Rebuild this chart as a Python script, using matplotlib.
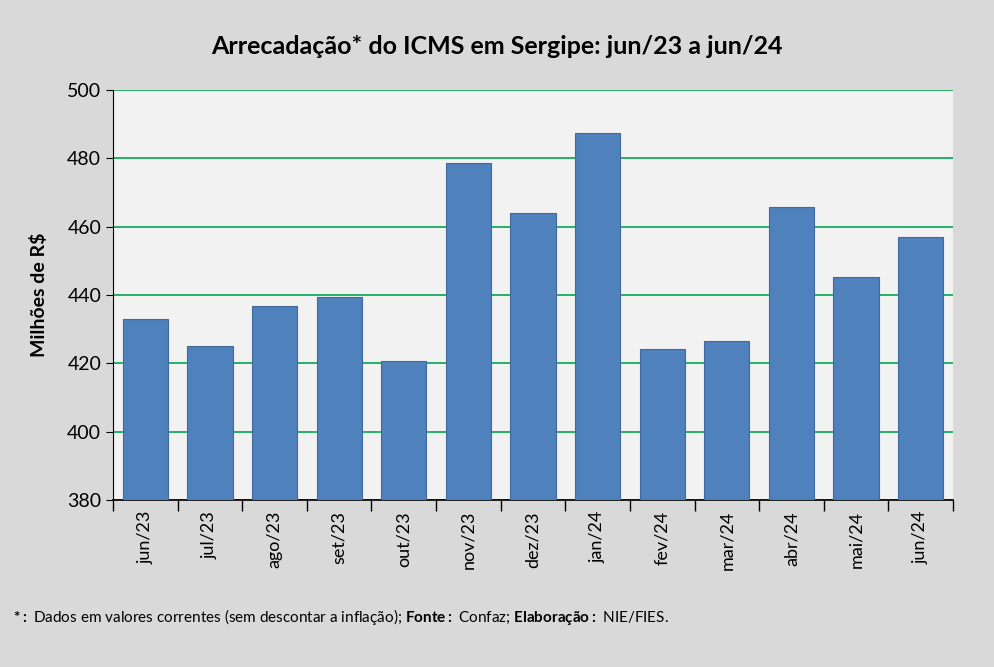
import matplotlib.pyplot as plt
import numpy as np

plt.rcParams['font.family'] = ['Lato', 'DejaVu Sans']
plt.rcParams['mathtext.fontset'] = 'custom'
plt.rcParams['mathtext.rm'] = 'Lato'
plt.rcParams['mathtext.bf'] = 'Lato:bold'

months = ['jun/23', 'jul/23', 'ago/23', 'set/23', 'out/23', 'nov/23', 'dez/23',
          'jan/24', 'fev/24', 'mar/24', 'abr/24', 'mai/24', 'jun/24']
icms = [433, 425, 436.8, 439.5, 420.7, 478.5, 464, 487.5, 424.2, 426.5, 465.7, 445.2, 457]

fig = plt.figure(figsize=(9.94, 6.67), dpi=100, facecolor='#d9d9d9')
ax = fig.add_axes([0.1137, 0.2504, 0.845, 0.6146])
ax.set_facecolor('#f2f2f2')

x = np.arange(len(months))
ax.bar(x, [v - 380 for v in icms], bottom=380, width=0.7, color='#4f81bd',
       edgecolor='#41699a', linewidth=0.8, zorder=3)

ax.set_ylim(380, 500)
ax.set_xlim(-0.5, len(months) - 0.5)
ax.set_yticks(range(380, 501, 20))
ax.tick_params(axis='y', labelsize=14, direction='out', length=5)
ax.grid(axis='y', color='#00a651', linewidth=1.2, zorder=1)

ax.set_xticks(x)
ax.set_xticklabels(months, rotation=90, fontsize=13)
ax.tick_params(axis='x', length=0, pad=8)
ax.set_xticks(np.arange(-0.5, len(months), 1), minor=True)
ax.tick_params(axis='x', which='minor', length=8, direction='out', width=1)

for s in ['top', 'right']:
    ax.spines[s].set_visible(False)
ax.spines['left'].set_color('black')
ax.spines['bottom'].set_color('black')
ax.spines['bottom'].set_linewidth(1.2)

ax.set_ylabel('Milhões de R$', fontsize=14, fontweight='bold', labelpad=14)
fig.text(0.5, 0.93, 'Arrecadação* do ICMS em Sergipe: jun/23 a jun/24',
         ha='center', va='center', fontsize=18, fontweight='bold')

fig.text(0.013, 0.075, r'$\bf{*:}$ Dados em valores correntes (sem descontar a inflação); $\bf{Fonte:}$ Confaz; $\bf{Elaboração:}$ NIE/FIES.',
         fontsize=11, va='center')

fig.savefig('out.png', dpi=100, facecolor=fig.get_facecolor())
